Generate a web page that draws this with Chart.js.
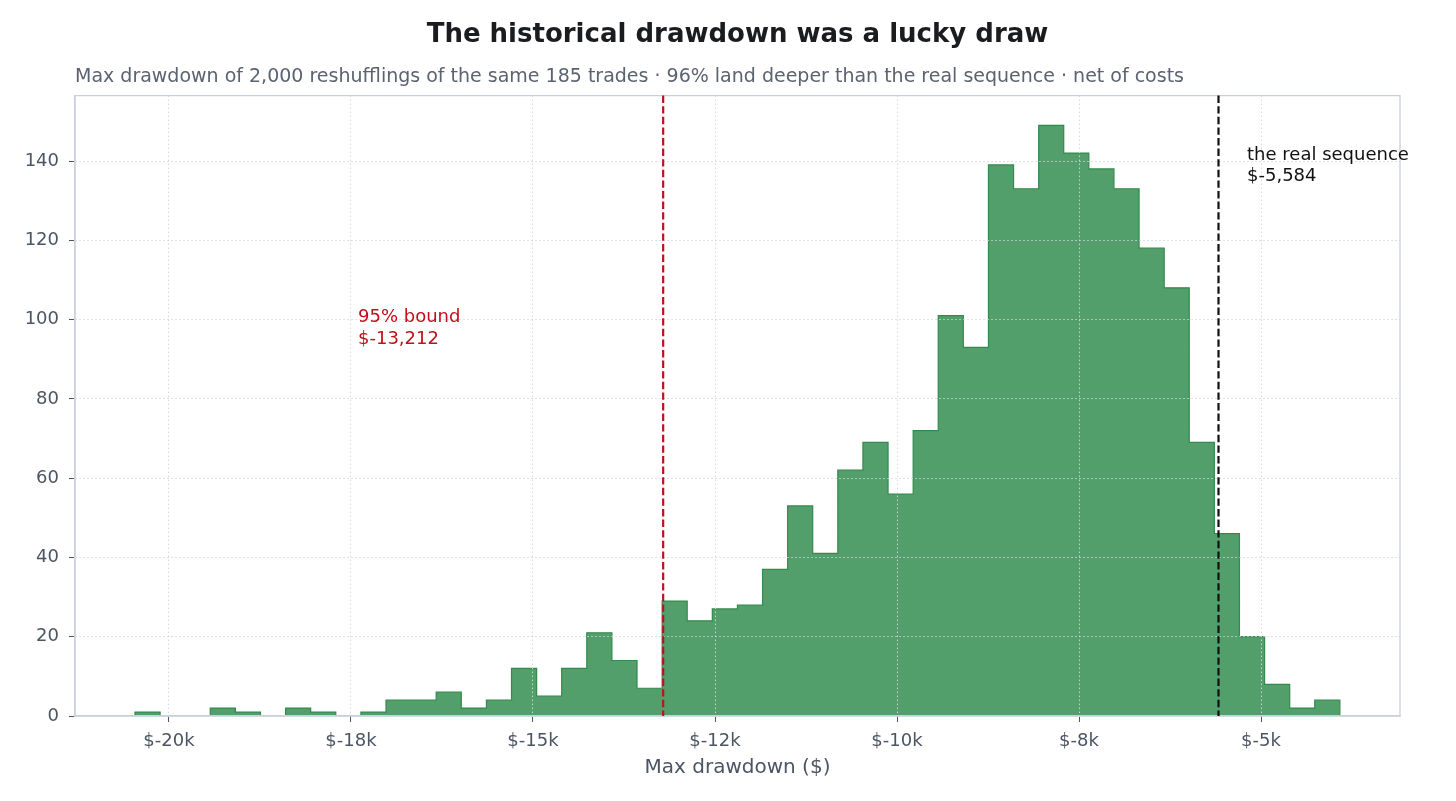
<!DOCTYPE html>
<html lang="en">
<head>
    <meta charset="UTF-8">
    <title>The historical drawdown was a lucky draw</title>
    <script src="https://cdn.jsdelivr.net/npm/chart.js"></script>
    <style>
        body { margin: 0; background: #ffffff; }
        #wrap { width: 1456px; height: 801px; position: relative; }
    </style>
</head>
<body>
    <div id="wrap">
        <canvas id="ddChart"></canvas>
    </div>

    <script type=text/javascript>
        // histogram bin edges ($) and counts per bin
        const binEdges = [
            -20467, -20122, -19778, -19433, -19088, -18743, -18398, -18054,
            -17709, -17364, -17019, -16674, -16330, -15985, -15640, -15295,
            -14950, -14606, -14261, -13916, -13571, -13226, -12882, -12537,
            -12192, -11847, -11502, -11158, -10813, -10468, -10123, -9778,
            -9434, -9089, -8744, -8399, -8054, -7710, -7365, -7020,
            -6675, -6330, -5986, -5641, -5296, -4951, -4606, -4262, -3917
        ];
        const binCounts = [
            1, 0, 0, 2, 1, 0, 2, 1,
            0, 1, 4, 4, 6, 2, 4, 12,
            5, 12, 21, 14, 7, 29, 24, 27,
            28, 37, 53, 41, 62, 69, 56, 72,
            101, 93, 139, 133, 149, 142, 138, 133,
            118, 108, 69, 46, 20, 8, 2, 4
        ];

        // axis ticks
        const xTickValues = [-20000, -17500, -15000, -12500, -10000, -7500, -5000];
        const xTickLabels = ['$-20k', '$-18k', '$-15k', '$-12k', '$-10k', '$-8k', '$-5k'];
        const yTickValues = [0, 20, 40, 60, 80, 100, 120, 140];

        // reference lines and their notes
        const refValues = [-13212, -5584];
        const refColors = ['#bd1219', '#111111'];
        const refNotes = [['95% bound', '$-13,212'], ['the real sequence', '$-5,584']];
        const noteX = [-17404, -5192];
        const noteY = [99.3, 140.3];

        // step outline of the histogram, built from edges + counts
        const stepPoints = [{x: binEdges[0], y: 0}];
        binCounts.forEach(function (c, i) { stepPoints.push({x: binEdges[i], y: c}); });
        stepPoints.push({x: binEdges[binEdges.length - 1], y: 0});

        const tickColor = '#4b5563';
        const gridColor = 'rgba(208,214,222,0.95)';
        const frameColor = '#c8d0da';

        // dashed verticals, notes and the top/right frame
        const refLines = {
            id: 'refLines',
            afterDraw(chart) {
                const ctx = chart.ctx;
                const a = chart.chartArea;
                const xs = chart.scales.x, ys = chart.scales.y;
                ctx.save();
                ctx.strokeStyle = frameColor;
                ctx.lineWidth = 1.3;
                ctx.strokeRect(a.left, a.top, a.right - a.left, a.bottom - a.top);

                refValues.forEach(function (v, i) {
                    const px = xs.getPixelForValue(v);
                    ctx.strokeStyle = refColors[i];
                    ctx.lineWidth = 2.2;
                    ctx.setLineDash([7.4, 3.2]);
                    ctx.beginPath();
                    ctx.moveTo(px, a.top);
                    ctx.lineTo(px, a.bottom);
                    ctx.stroke();
                    ctx.setLineDash([]);

                    ctx.fillStyle = refColors[i];
                    ctx.font = '18px "DejaVu Sans"';
                    ctx.textAlign = 'left';
                    ctx.textBaseline = 'alphabetic';
                    const tx = xs.getPixelForValue(noteX[i]);
                    const ty = ys.getPixelForValue(noteY[i]);
                    refNotes[i].forEach(function (line, k) {
                        ctx.fillText(line, tx, ty + k * 21.6);
                    });
                });
                ctx.restore();
            }
        };

        Chart.defaults.font.family = '"DejaVu Sans", sans-serif';

        var ctx = document.getElementById('ddChart').getContext('2d');
        var ddChart = new Chart(ctx, {
            type: 'line',
            data: {
                datasets: [{
                    label: 'Max drawdown',
                    data: stepPoints,
                    stepped: 'before',
                    fill: 'origin',
                    backgroundColor: '#529f6b',
                    borderColor: '#338a4c',
                    borderWidth: 1.2,
                    pointRadius: 0,
                    tension: 0
                }]
            },
            options: {
                responsive: true,
                maintainAspectRatio: false,
                animation: false,
                layout: {
                    padding: {left: 0, right: 56, top: 0, bottom: 0}
                },
                plugins: {
                    legend: {display: false},
                    tooltip: {enabled: false},
                    title: {
                        display: true,
                        text: 'The historical drawdown was a lucky draw',
                        fullSize: false,
                        color: '#1a1c20',
                        font: {size: 26, weight: 'bold'},
                        padding: {top: 19.4, bottom: 0}
                    },
                    subtitle: {
                        display: true,
                        text: 'Max drawdown of 2,000 reshufflings of the same 185 trades · 96% land deeper than the real sequence · net of costs',
                        fullSize: false,
                        align: 'start',
                        color: '#5b6270',
                        font: {size: 19},
                        padding: {top: 15.3, bottom: 6.9}
                    }
                },
                scales: {
                    x: {
                        type: 'linear',
                        min: -21291,
                        max: -3091,
                        afterBuildTicks: function (axis) {
                            axis.ticks = xTickValues.map(function (v) { return {value: v}; });
                        },
                        afterFit: function (axis) { axis.height = 85; },
                        ticks: {
                            color: tickColor,
                            font: {size: 18},
                            padding: 9,
                            maxRotation: 0,
                            autoSkip: false,
                            z: 2,
                            callback: function (value) {
                                const i = xTickValues.indexOf(value);
                                return i >= 0 ? xTickLabels[i] : '';
                            }
                        },
                        grid: {
                            z: 1,
                            color: gridColor,
                            lineWidth: 1,
                            tickColor: tickColor,
                            tickLength: 6,
                            tickWidth: 1
                        },
                        border: {z: 2, color: frameColor, width: 1.3, dash: [1.5, 2.5]},
                        title: {
                            display: true,
                            text: 'Max drawdown ($)',
                            color: '#4b5563',
                            font: {size: 20},
                            padding: {top: 0, bottom: 21}
                        }
                    },
                    y: {
                        min: 0,
                        max: 156.5,
                        afterBuildTicks: function (axis) {
                            axis.ticks = yTickValues.map(function (v) { return {value: v}; });
                        },
                        afterFit: function (axis) { axis.width = 75; },
                        ticks: {
                            color: tickColor,
                            font: {size: 18},
                            padding: 10,
                            z: 2
                        },
                        grid: {
                            z: 1,
                            color: gridColor,
                            lineWidth: 1,
                            tickColor: tickColor,
                            tickLength: 6,
                            tickWidth: 1
                        },
                        border: {z: 2, color: frameColor, width: 1.3, dash: [1.5, 2.5]}
                    }
                }
            },
            plugins: [refLines]
        });
    </script>
</body>
</html>
